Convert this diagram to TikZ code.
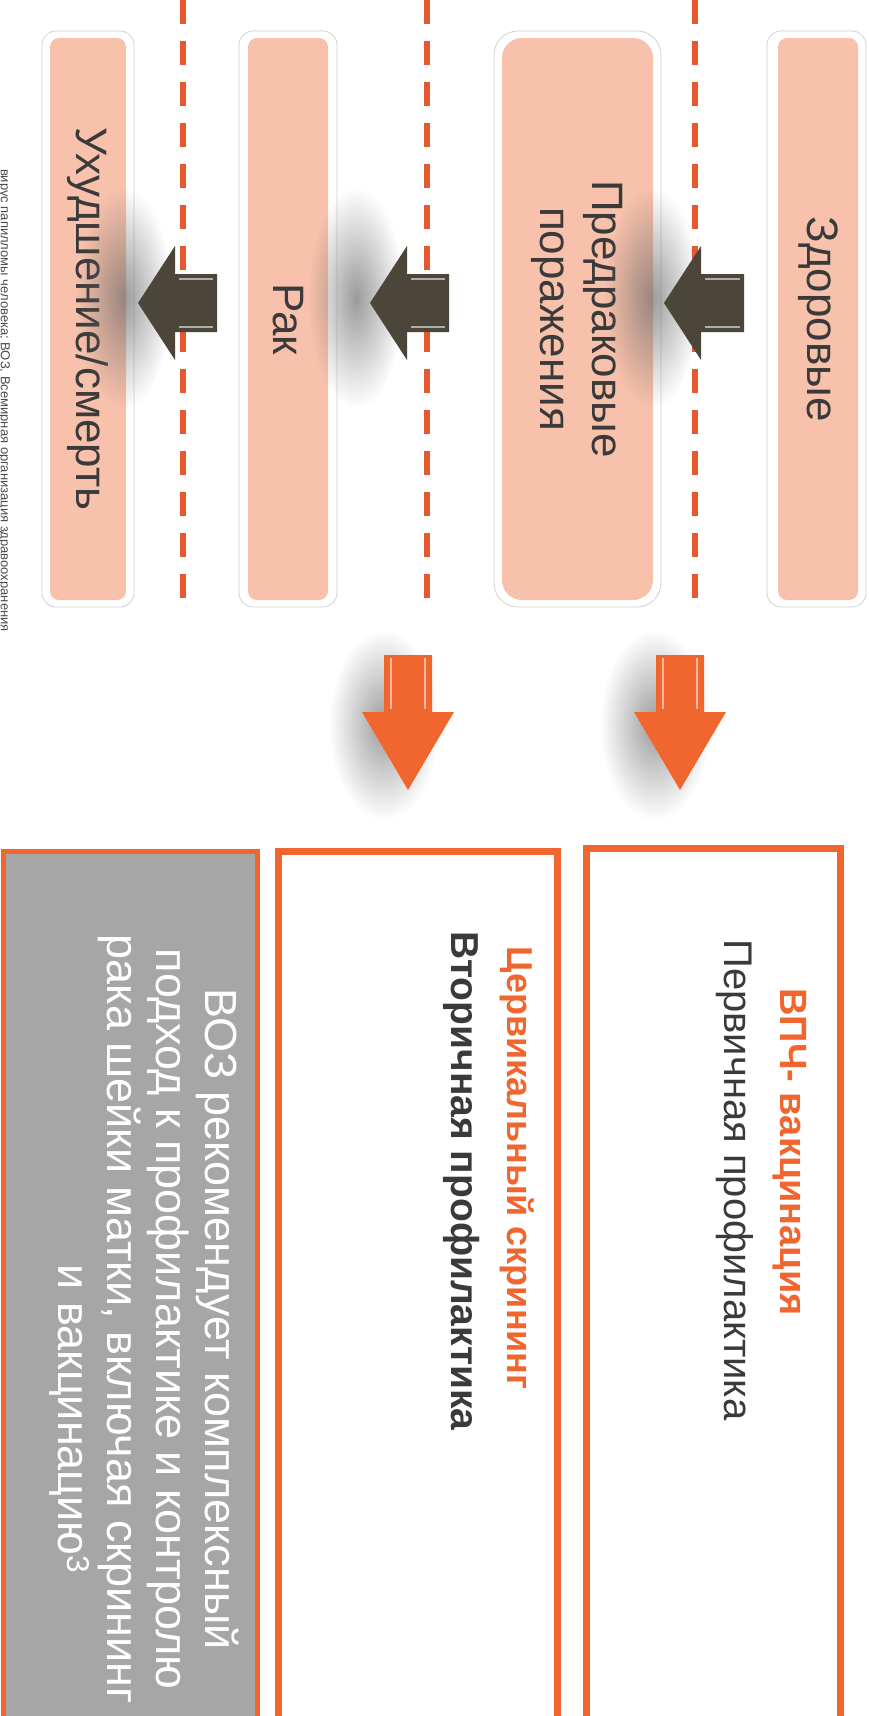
\documentclass[tikz,border=0pt]{standalone}
\usepackage{fontspec}
\setmainfont{Liberation Sans}
\usetikzlibrary{fadings}
\definecolor{pinkfill}{RGB}{248,193,171}
\definecolor{accent}{RGB}{241,101,46}
\definecolor{dashcol}{RGB}{229,88,48}
\definecolor{darkarrow}{RGB}{76,70,58}
\definecolor{textdark}{RGB}{58,58,58}
\definecolor{graybox}{RGB}{166,166,166}
\tikzfading[name=blobfade, inner color=transparent!35, outer color=transparent!100]
\begin{document}
\begin{tikzpicture}[x=1pt,y=1pt,
  rimbox/.style={draw=black!18, fill=white, line width=0.8pt, rounded corners=14pt},
  stagebox/.style={fill=pinkfill, rounded corners=9pt, rotate=-90, text=textdark, font=\fontsize{44}{52}\selectfont, align=center, inner sep=0pt},
  divider/.style={draw=dashcol, line width=6.5pt, dash pattern=on 24pt off 17pt},
  stagearrow/.style={fill=darkarrow},
  bevel/.style={draw=darkarrow!45!white, line width=1.3pt},
  downarrow/.style={fill=accent},
  glint/.style={draw=accent!45!white, line width=2pt},
  shadowblob/.style={fill=black!60, path fading=blobfade},
  framebox/.style={draw=accent, line width=7pt, fill=white},
  headtext/.style={rotate=-90, text=accent, font=\bfseries\fontsize{38}{44}\selectfont},
  subtext/.style={rotate=-90, text=textdark, font=\fontsize{40}{46}\selectfont},
]
\useasboundingbox (0,0) rectangle (869,-1716);
\fill[white] (0,0) rectangle (869,-1716);

% footnote at the left edge
\node[rotate=-90, anchor=east, text=black!70, font=\fontsize{13}{15}\selectfont, inner sep=0pt] (foot) at (4,-632) {вирус папилломы человека; ВОЗ, Всемирная организация здравоохранения};

% stage rims
\draw[rimbox] (767,-31) rectangle (866,-607);
\draw[rimbox, rounded corners=24pt] (494,-31) rectangle (661,-607);
\draw[rimbox] (239,-31) rectangle (337,-607);
\draw[rimbox] (42,-31) rectangle (134,-607);

% stages
\node[stagebox, minimum width=562pt, minimum height=80pt] (healthy) at (818,-319) {Здоровые};
\node[stagebox, rounded corners=20pt, minimum width=562pt, minimum height=151pt] (precancer) at (577.5,-319) {Предраковые\\поражения};
\node[stagebox, minimum width=562pt, minimum height=80pt] (cancer) at (288,-319) {Рак};
\node[stagebox, minimum width=562pt, minimum height=76pt] (worse) at (88,-319) {Ухудшение/смерть};

% dividers
\coordinate (d1t) at (695,0); \coordinate (d1b) at (695,-603);
\coordinate (d2t) at (427,0); \coordinate (d2b) at (427,-603);
\coordinate (d3t) at (183,0); \coordinate (d3b) at (183,-603);
\draw[divider] (d1t) -- (d1b);
\draw[divider] (d2t) -- (d2b);
\draw[divider] (d3t) -- (d3b);

% shadows of the stage arrows
\fill[shadowblob] (652,-298) ellipse (48 and 110);
\fill[shadowblob] (356,-298) ellipse (48 and 110);
\fill[shadowblob] (124,-298) ellipse (48 and 110);

% stage arrows (pointing left)
\fill[stagearrow] (664,-303) -- (701,-246) -- (701,-274) -- (744,-274) -- (744,-332) -- (701,-332) -- (701,-360) -- cycle;
\draw[bevel] (705,-279) -- (740,-279); \draw[bevel] (705,-327) -- (740,-327);
\fill[stagearrow] (370,-303) -- (407,-246) -- (407,-274) -- (449,-274) -- (449,-332) -- (407,-332) -- (407,-360) -- cycle;
\draw[bevel] (411,-279) -- (445,-279); \draw[bevel] (411,-327) -- (445,-327);
\fill[stagearrow] (138,-303) -- (175,-246) -- (175,-274) -- (217,-274) -- (217,-332) -- (175,-332) -- (175,-360) -- cycle;
\draw[bevel] (179,-279) -- (213,-279); \draw[bevel] (179,-327) -- (213,-327);

% shadows of the down arrows
\fill[shadowblob] (655,-725) ellipse (55 and 95);
\fill[shadowblob] (384,-725) ellipse (55 and 95);

% down arrows
\fill[downarrow] (656,-655) -- (704,-655) -- (704,-712) -- (726,-712) -- (680,-790) -- (634,-712) -- (656,-712) -- cycle;
\draw[glint] (663,-658) -- (663,-709); \draw[glint] (697,-658) -- (697,-709);
\fill[downarrow] (384,-655) -- (432,-655) -- (432,-712) -- (454,-712) -- (408,-790) -- (362,-712) -- (384,-712) -- cycle;
\draw[glint] (391,-658) -- (391,-709); \draw[glint] (425,-658) -- (425,-709);

% prevention boxes
\node[framebox, minimum width=254pt, minimum height=900pt] (vacbox) at (713,-1298) {};
\node[framebox, minimum width=279pt, minimum height=900pt] (screenbox) at (417.5,-1301) {};
\node[framebox, fill=graybox, line width=5pt, minimum width=254pt, minimum height=900pt] (whobox) at (130,-1301) {};

% texts
\node[headtext] (vachead) at (790,-1152) {ВПЧ- вакцинация};
\node[subtext] (vacsub) at (735,-1180) {Первичная профилактика};
\node[headtext, font=\bfseries\fontsize{36}{44}\selectfont] (scrhead) at (517,-1168) {Цервикальный скрининг};
\node[subtext, font=\bfseries\fontsize{39}{46}\selectfont] (scrsub) at (462,-1181) {Вторичная профилактика};
\node[rotate=-90, text=white, align=center, font=\fontsize{45}{49}\selectfont] (whotext) at (144,-1319) {ВОЗ рекомендует комплексный\\подход к профилактике и контролю\\рака шейки матки, включая скрининг\\\hspace*{200pt}и вакцинацию\textsuperscript{3}};
\end{tikzpicture}
\end{document}
